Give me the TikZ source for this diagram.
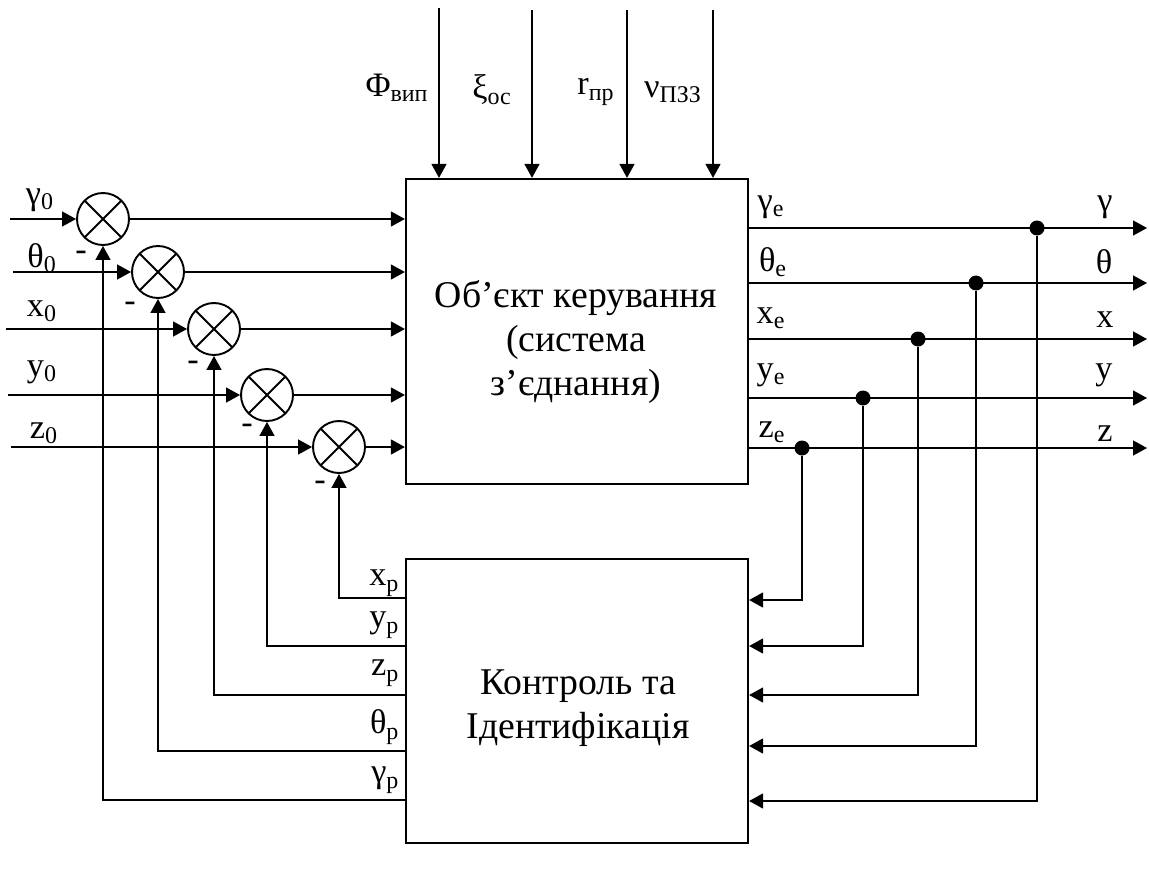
\documentclass[tikz,border=0pt]{standalone}
\usepackage{fontspec}
\setmainfont{Liberation Serif}
\usetikzlibrary{arrows.meta}
\usetikzlibrary{calc, positioning}
\tikzset{
    >={Triangle[length=2.8mm, width=3mm]},
    wire/.style={line width=0.8pt},
    blk/.style={draw, line width=1.3pt, inner sep=0pt},
    sum/.style={draw, circle, line width=1.1pt, minimum size=1.04cm, inner sep=0pt,
        path picture={\draw[line width=1.1pt]
            (path picture bounding box.north west) -- (path picture bounding box.south east)
            (path picture bounding box.north east) -- (path picture bounding box.south west);}},
    dot/.style={circle, fill, minimum size=0.3cm, inner sep=0pt},
    lbl/.style={inner sep=0pt, font=\fontsize{19.5}{22}\selectfont},
    big/.style={inner sep=0pt, align=center, font=\fontsize{21.5}{25}\selectfont}
}

\begin{document}
\begin{tikzpicture}[x=0.02cm, y=-0.02cm, wire]
      \useasboundingbox (0,0) rectangle (1149,872);

      % blocks
      \node[blk, minimum width=6.84cm, minimum height=6.1cm] (obj) at (577,331.5) {};
      \node[big] (objtxt) at (576,342) {Об’єкт керування\\(система\\з’єднання)};
      \node[blk, minimum width=6.84cm, minimum height=5.68cm] (ctrl) at (577,701) {};
      \node[big] (ctrltxt) at (578,708) {Контроль та\\Ідентифікація};

      % summing junctions
      \node[sum] (s1) at (103,219) {};
      \node[sum] (s2) at (158,272) {};
      \node[sum] (s3) at (214,329) {};
      \node[sum] (s4) at (267,395) {};
      \node[sum] (s5) at (339,447) {};

      % set points
      \coordinate (i1) at (10,219);
      \coordinate (i2) at (13,272);
      \coordinate (i3) at (6,329);
      \coordinate (i4) at (8,395);
      \coordinate (i5) at (11,447);
      \node[lbl] (g0) at (40,200) {γ\textsubscript{0}};
      \node[lbl] (t0) at (42,258) {θ\textsubscript{0}};
      \node[lbl] (x0) at (42,311) {x\textsubscript{0}};
      \node[lbl] (y0) at (42,372) {y\textsubscript{0}};
      \node[lbl] (z0) at (44,433) {z\textsubscript{0}};

      \path[->]
        (i1) edge (s1)
        (i2) edge (s2)
        (i3) edge (s3)
        (i4) edge (s4)
        (i5) edge (s5)
        (s1) edge (s1 -| obj.west)
        (s2) edge (s2 -| obj.west)
        (s3) edge (s3 -| obj.west)
        (s4) edge (s4 -| obj.west)
        (s5) edge (s5 -| obj.west);

      \node[lbl] (m1) at (81,256) {-};
      \node[lbl] (m2) at (130,307) {-};
      \node[lbl] (m3) at (193,366) {-};
      \node[lbl] (m4) at (247,429) {-};
      \node[lbl] (m5) at (320,486) {-};

      % disturbances
      \coordinate (d1) at (439,8);
      \coordinate (d2) at (532,10);
      \coordinate (d3) at (627,10);
      \coordinate (d4) at (713,10);
      \path[->]
        (d1) edge (d1 |- obj.north)
        (d2) edge (d2 |- obj.north)
        (d3) edge (d3 |- obj.north)
        (d4) edge (d4 |- obj.north);
      \node[lbl] (fvip) at (397,88) {Φ\textsubscript{вип}};
      \node[lbl] (ksi) at (492,90) {ξ\textsubscript{ос}};
      \node[lbl] (rpr) at (596,92) {r\textsubscript{пр}};
      \node[lbl] (nu) at (673,92) {ν\textsubscript{ПЗЗ}};

      % outputs
      \coordinate (og) at (1147,228);
      \coordinate (ot) at (1147,283);
      \coordinate (ox) at (1147,339);
      \coordinate (oy) at (1147,398);
      \coordinate (oz) at (1147,448);
      \path[->]
        (og -| obj.east) edge (og)
        (ot -| obj.east) edge (ot)
        (ox -| obj.east) edge (ox)
        (oy -| obj.east) edge (oy)
        (oz -| obj.east) edge (oz);
      \node[dot] (dg) at (1037,228) {};
      \node[dot] (dt) at (976,283) {};
      \node[dot] (dx) at (918,339) {};
      \node[dot] (dy) at (863,398) {};
      \node[dot] (dz) at (802,448) {};

      \node[lbl] (ge) at (771,207) {γ\textsubscript{e}};
      \node[lbl] (te) at (773,262) {θ\textsubscript{e}};
      \node[lbl] (xe) at (771,318) {x\textsubscript{e}};
      \node[lbl] (ye) at (771,375) {y\textsubscript{e}};
      \node[lbl] (ze) at (772,432) {z\textsubscript{e}};
      \node[lbl] (g) at (1105,207) {γ};
      \node[lbl] (t) at (1104,262) {θ};
      \node[lbl] (x) at (1105,320) {x};
      \node[lbl] (y) at (1104,375) {y};
      \node[lbl] (z) at (1105,434) {z};

      % measurements into the control block
      \coordinate (cz) at (ctrl.east |- 0,600);
      \coordinate (cy) at (ctrl.east |- 0,646);
      \coordinate (cx) at (ctrl.east |- 0,695);
      \coordinate (ct) at (ctrl.east |- 0,746);
      \coordinate (cg) at (ctrl.east |- 0,801);
      \draw[->] (dz) |- (cz);
      \draw[->] (dy) |- (cy);
      \draw[->] (dx) |- (cx);
      \draw[->] (dt) |- (ct);
      \draw[->] (dg) |- (cg);

      % estimates back to the junctions
      \coordinate (px) at (ctrl.west |- 0,598);
      \coordinate (py) at (ctrl.west |- 0,646);
      \coordinate (pz) at (ctrl.west |- 0,695);
      \coordinate (pt) at (ctrl.west |- 0,751);
      \coordinate (pg) at (ctrl.west |- 0,800);
      \draw[->] (px) -| (s5.south);
      \draw[->] (py) -| (s4.south);
      \draw[->] (pz) -| (s3.south);
      \draw[->] (pt) -| (s2.south);
      \draw[->] (pg) -| (s1.south);

      \node[lbl, anchor=east] (xp) at (400,583) {x\textsubscript{p}};
      \node[lbl, anchor=east] (yp) at (400,625) {y\textsubscript{p}};
      \node[lbl, anchor=east] (zp) at (400,673) {z\textsubscript{p}};
      \node[lbl, anchor=east] (tp) at (400,727) {θ\textsubscript{p}};
      \node[lbl, anchor=east] (gp) at (400,780) {γ\textsubscript{p}};
     \end{tikzpicture}
\end{document}
